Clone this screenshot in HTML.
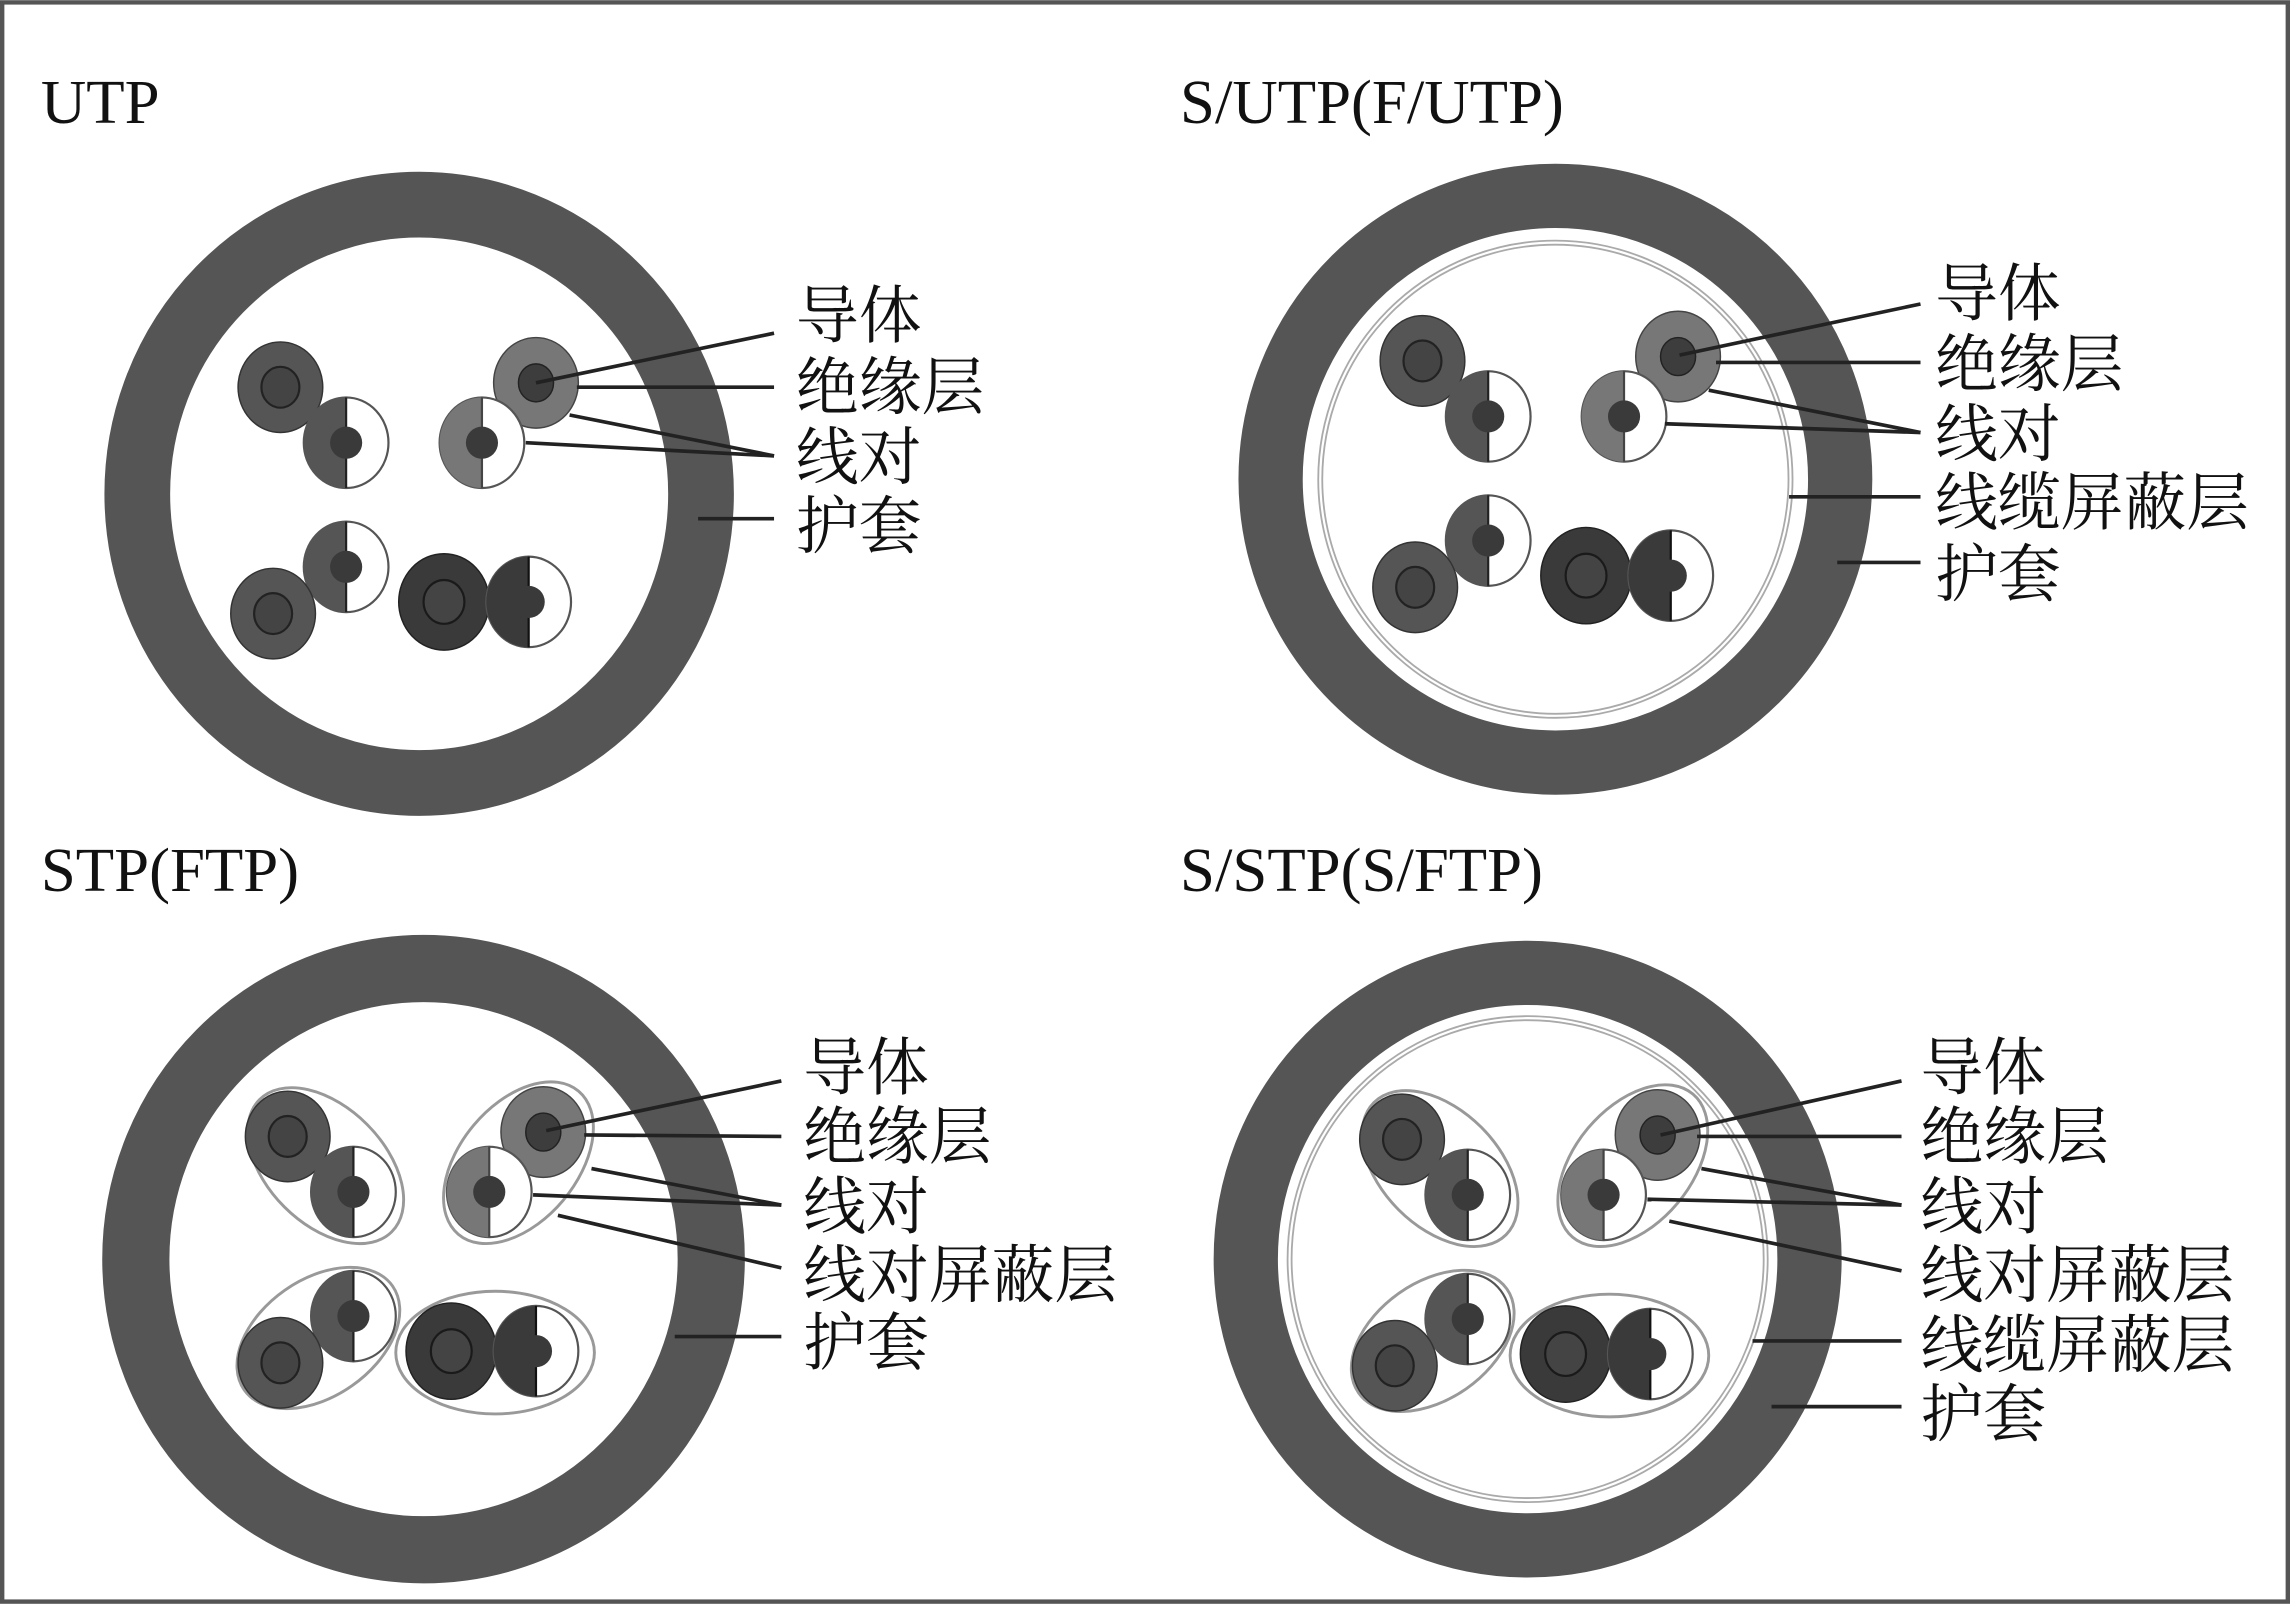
<!DOCTYPE html>
<html><head><meta charset="utf-8"><style>
html,body{margin:0;padding:0;background:#fff;}
svg{display:block;}
text{font-family:"Liberation Serif","Noto Serif CJK SC",serif;fill:#111;}
</style></head><body>
<svg width="2290" height="1604" viewBox="0 0 1568 1098" xmlns="http://www.w3.org/2000/svg">
<defs>
<g id="wires">
  <ellipse cx="192" cy="265" rx="29" ry="31" fill="#555" stroke="#333" stroke-width="1"/>
  <ellipse cx="192" cy="265" rx="13" ry="14" fill="#444" stroke="#222" stroke-width="1.5"/>
  <ellipse cx="237" cy="303" rx="29" ry="31" fill="#fff" stroke="#555" stroke-width="1.5"/>
  <path d="M237,272 A29 31 0 0 0 237,334 Z" fill="#555"/>
  <line x1="237" y1="272" x2="237" y2="334" stroke="#222" stroke-width="1.5"/>
  <circle cx="237" cy="303" r="11" fill="#3a3a3a"/>
  <ellipse cx="367" cy="262" rx="29" ry="31" fill="#777" stroke="#444" stroke-width="1"/>
  <ellipse cx="367" cy="262" rx="12" ry="13" fill="#3d3d3d" stroke="#222" stroke-width="1"/>
  <ellipse cx="330" cy="303" rx="29" ry="31" fill="#fff" stroke="#555" stroke-width="1.5"/>
  <path d="M330,272 A29 31 0 0 0 330,334 Z" fill="#777"/>
  <line x1="330" y1="272" x2="330" y2="334" stroke="#444" stroke-width="1.5"/>
  <circle cx="330" cy="303" r="11" fill="#3a3a3a"/>
  <ellipse cx="237" cy="388" rx="29" ry="31" fill="#fff" stroke="#555" stroke-width="1.5"/>
  <path d="M237,357 A29 31 0 0 0 237,419 Z" fill="#555"/>
  <line x1="237" y1="357" x2="237" y2="419" stroke="#222" stroke-width="1.5"/>
  <circle cx="237" cy="388" r="11" fill="#3a3a3a"/>
  <ellipse cx="187" cy="420" rx="29" ry="31" fill="#555" stroke="#333" stroke-width="1"/>
  <ellipse cx="187" cy="420" rx="13" ry="14" fill="#444" stroke="#222" stroke-width="1.5"/>
  <ellipse cx="304" cy="412" rx="31" ry="33" fill="#3a3a3a" stroke="#222" stroke-width="1"/>
  <ellipse cx="304" cy="412" rx="14" ry="15" fill="#444" stroke="#1a1a1a" stroke-width="1.5"/>
  <ellipse cx="362" cy="412" rx="29" ry="31" fill="#fff" stroke="#555" stroke-width="1.5"/>
  <path d="M362,381 A29 31 0 0 0 362,443 Z" fill="#3a3a3a"/>
  <line x1="362" y1="381" x2="362" y2="443" stroke="#111" stroke-width="1.5"/>
  <circle cx="362" cy="412" r="11" fill="#3a3a3a"/>
</g>
<g id="pairsh" fill="none" stroke="#999" stroke-width="2">
  <ellipse cx="218" cy="285" rx="64" ry="40" transform="rotate(45 218 285)"/>
  <ellipse cx="350" cy="283" rx="64" ry="40" transform="rotate(-50 350 283)"/>
  <ellipse cx="213" cy="403" rx="62" ry="40" transform="rotate(-35 213 403)"/>
  <ellipse cx="334" cy="413" rx="68" ry="42"/>
</g>
</defs>

<rect x="1.5" y="1.5" width="1565" height="1095" fill="#fff" stroke="#555" stroke-width="3"/>

<text x="28" y="84" font-size="43">UTP</text>
<ellipse cx="287" cy="338" rx="193" ry="198" fill="none" stroke="#555" stroke-width="45"/>
<use href="#wires"/>
<g stroke="#222" stroke-width="2.5">
<line x1="530" y1="228" x2="367" y2="262"/>
<line x1="530" y1="265" x2="395" y2="265"/>
<line x1="530" y1="312" x2="390" y2="284"/>
<line x1="530" y1="312" x2="360" y2="303"/>
<line x1="478" y1="355" x2="530" y2="355"/>
</g>
<g font-size="43">
<text x="545" y="231">导体</text>
<text x="545" y="280">绝缘层</text>
<text x="545" y="328">线对</text>
<text x="545" y="375">护套</text>
</g>

<text x="808" y="84" font-size="43">S/UTP(F/UTP)</text>
<ellipse cx="1065" cy="328" rx="195" ry="194" fill="none" stroke="#555" stroke-width="44"/>
<ellipse cx="1065" cy="328" rx="161" ry="162" fill="none" stroke="#aaa" stroke-width="4"/>
<ellipse cx="1065" cy="328" rx="161" ry="162" fill="none" stroke="#fff" stroke-width="1.5"/>
<use href="#wires" transform="translate(782,-18)"/>
<g stroke="#222" stroke-width="2.5">
<line x1="1315" y1="208" x2="1150" y2="243"/>
<line x1="1315" y1="248" x2="1175" y2="248"/>
<line x1="1315" y1="296" x2="1170" y2="267"/>
<line x1="1315" y1="296" x2="1140" y2="290"/>
<line x1="1315" y1="340" x2="1225" y2="340"/>
<line x1="1315" y1="385" x2="1258" y2="385"/>
</g>
<g font-size="43">
<text x="1325" y="216">导体</text>
<text x="1325" y="264">绝缘层</text>
<text x="1325" y="312">线对</text>
<text x="1325" y="359">线缆屏蔽层</text>
<text x="1325" y="408">护套</text>
</g>

<text x="28" y="610" font-size="43">STP(FTP)</text>
<ellipse cx="290" cy="862" rx="197" ry="199" fill="none" stroke="#555" stroke-width="46"/>
<g transform="translate(5,513)"><use href="#pairsh"/><use href="#wires"/></g>
<g stroke="#222" stroke-width="2.5">
<line x1="535" y1="740" x2="374" y2="774"/>
<line x1="535" y1="778" x2="400" y2="777"/>
<line x1="535" y1="825" x2="405" y2="800"/>
<line x1="535" y1="825" x2="365" y2="818"/>
<line x1="535" y1="868" x2="382" y2="832"/>
<line x1="462" y1="915" x2="535" y2="915"/>
</g>
<g font-size="43">
<text x="550" y="746">导体</text>
<text x="550" y="793">绝缘层</text>
<text x="550" y="841">线对</text>
<text x="550" y="888">线对屏蔽层</text>
<text x="550" y="934">护套</text>
</g>

<text x="808" y="610" font-size="43">S/STP(S/FTP)</text>
<ellipse cx="1046" cy="862" rx="193" ry="196" fill="none" stroke="#555" stroke-width="44"/>
<ellipse cx="1046" cy="862" rx="163" ry="165" fill="none" stroke="#aaa" stroke-width="4"/>
<ellipse cx="1046" cy="862" rx="163" ry="165" fill="none" stroke="#fff" stroke-width="1.5"/>
<g transform="translate(768,515)"><use href="#pairsh"/><use href="#wires"/></g>
<g stroke="#222" stroke-width="2.5">
<line x1="1302" y1="740" x2="1137" y2="777"/>
<line x1="1302" y1="778" x2="1162" y2="778"/>
<line x1="1302" y1="825" x2="1165" y2="800"/>
<line x1="1302" y1="825" x2="1128" y2="821"/>
<line x1="1302" y1="870" x2="1143" y2="836"/>
<line x1="1302" y1="918" x2="1200" y2="918"/>
<line x1="1302" y1="963" x2="1213" y2="963"/>
</g>
<g font-size="43">
<text x="1315" y="746">导体</text>
<text x="1315" y="793">绝缘层</text>
<text x="1315" y="841">线对</text>
<text x="1315" y="888">线对屏蔽层</text>
<text x="1315" y="936">线缆屏蔽层</text>
<text x="1315" y="983">护套</text>
</g>
</svg>
</body></html>
